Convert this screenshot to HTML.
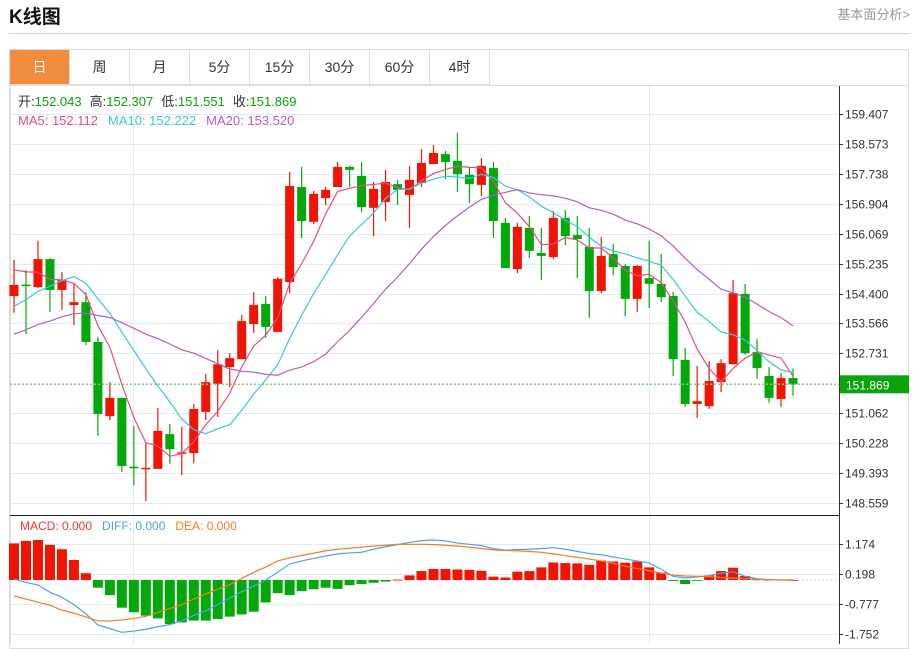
<!DOCTYPE html>
<html><head><meta charset="utf-8">
<style>
body{margin:0;width:918px;height:644px;overflow:hidden;background:#fff;font-family:"Liberation Sans","Noto Sans CJK SC",sans-serif;position:relative}
.title{position:absolute;left:9px;top:2px;font-size:19px;font-weight:bold;color:#111}
.more{position:absolute;right:8px;top:4px;font-size:13px;color:#999}
.hr{position:absolute;left:9px;top:33px;width:901px;height:1px;background:#d5d5d5}
.box{position:absolute;left:9px;top:49px;width:900px;height:600px;border:1px solid #ddd;box-sizing:border-box}
.tabs{position:absolute;left:10px;top:50px;height:35px;display:flex}
.tab{width:60px;height:35px;border-right:1px solid #ddd;border-bottom:1px solid #ddd;font-size:14px;color:#333;display:flex;align-items:center;justify-content:center;box-sizing:border-box}
.tab.on{background:#f28c3f;color:#fff}
svg{position:absolute;left:0;top:0}
</style></head><body>
<div class="title">K线图</div>
<div class="more">基本面分析&gt;</div>
<div class="hr"></div>
<div class="box"></div>
<div class="tabs">
<div class="tab on">日</div>
<div class="tab">周</div>
<div class="tab">月</div>
<div class="tab">5分</div>
<div class="tab">15分</div>
<div class="tab">30分</div>
<div class="tab">60分</div>
<div class="tab">4时</div>
</div>
<svg id="chart" width="918" height="644"></svg>
<script>
const opens=[154.33,154.65,154.58,155.36,154.50,154.08,154.16,153.05,150.98,151.49,149.57,149.52,149.51,150.48,149.94,149.95,151.10,151.88,152.35,152.57,153.55,154.11,153.33,154.72,157.37,156.40,157.06,157.37,157.93,157.68,156.79,156.95,157.45,157.15,157.48,158.01,158.29,158.10,157.71,157.43,157.90,156.37,155.08,156.23,155.53,155.42,156.51,156.03,155.70,154.47,155.50,155.17,154.25,154.83,154.67,154.33,152.55,151.32,151.26,151.93,152.43,154.39,152.77,152.10,151.46,152.043];
const highs=[155.34,155.06,155.87,155.39,155.00,154.69,154.44,153.19,151.93,151.49,150.71,150.23,151.21,150.76,150.68,151.32,152.16,152.82,152.74,153.80,154.44,154.33,154.86,157.79,157.93,157.26,157.37,158.07,157.96,158.07,157.51,157.85,157.57,157.96,158.43,158.54,158.38,158.88,157.93,158.18,158.07,156.51,156.37,156.56,156.23,156.70,156.73,156.56,156.23,155.98,155.78,155.22,155.20,155.87,155.50,154.44,152.88,152.38,152.52,152.57,154.78,154.67,153.13,152.35,152.18,152.307];
const lows=[153.86,153.27,154.55,153.89,153.94,153.52,152.96,150.43,150.87,149.42,149.06,148.61,149.51,149.65,149.34,149.67,150.87,150.96,151.79,152.57,153.30,153.16,153.33,154.41,155.95,156.34,156.87,157.37,157.37,156.67,156.00,156.42,156.87,156.23,157.37,158.01,157.59,157.23,156.93,157.12,155.95,155.11,154.97,155.39,154.78,155.36,155.75,154.83,153.72,154.41,154.92,153.77,153.89,154.00,154.16,152.10,151.24,150.93,151.18,151.65,152.43,152.69,152.02,151.35,151.24,151.551];
const closes=[154.64,154.63,155.36,154.50,154.78,154.16,153.05,151.04,151.49,149.59,149.55,149.54,150.57,150.06,149.97,151.18,151.93,152.43,152.60,153.63,154.08,153.47,154.81,157.40,156.42,157.18,157.29,157.93,157.85,156.81,157.32,157.51,157.29,157.57,158.04,158.32,158.07,157.73,157.45,157.96,156.42,155.11,156.26,155.59,155.45,156.51,156.00,155.92,154.47,155.45,155.14,154.25,155.17,154.67,154.30,152.57,151.32,151.40,151.96,152.46,154.41,152.74,152.32,151.49,152.04,151.869];
const priorCloses=[152.2,152.4,152.6,152.3,152.5,152.7,152.4,152.6,152.5,152.7,152.8,153.0,153.1,153.2,153.05,154.9,155.4,155.5,154.85];
const priceTicks=["159.407","158.573","157.738","156.904","156.069","155.235","154.400","153.566","152.731","151.062","150.228","149.393","148.559"];
const macdHist=[1.19,1.27,1.30,1.14,1.00,0.65,0.22,-0.25,-0.49,-0.90,-1.05,-1.16,-1.25,-1.43,-1.38,-1.32,-1.32,-1.27,-1.19,-1.12,-1.03,-0.73,-0.43,-0.49,-0.36,-0.30,-0.25,-0.29,-0.17,-0.13,-0.09,-0.05,0.01,0.15,0.29,0.36,0.36,0.34,0.33,0.30,0.11,0.08,0.27,0.29,0.41,0.57,0.55,0.54,0.49,0.63,0.60,0.56,0.60,0.41,0.24,-0.03,-0.13,-0.02,0.15,0.29,0.40,0.13,0.02,0.01,0.01,0.00];
const diffVals=[0.03,-0.08,-0.16,-0.40,-0.56,-0.80,-1.10,-1.46,-1.58,-1.70,-1.66,-1.60,-1.52,-1.45,-1.32,-1.15,-1.00,-0.80,-0.58,-0.38,-0.20,0.00,0.25,0.52,0.62,0.70,0.78,0.85,0.88,0.90,1.00,1.08,1.15,1.22,1.28,1.30,1.27,1.20,1.16,1.12,1.02,0.97,0.99,1.00,1.02,1.05,1.00,0.93,0.86,0.82,0.75,0.68,0.62,0.55,0.35,0.12,0.07,0.10,0.14,0.22,0.27,0.12,0.04,0.01,0.00,0.00];
const deaVals=[-0.52,-0.62,-0.72,-0.82,-0.98,-1.08,-1.20,-1.33,-1.33,-1.30,-1.25,-1.18,-1.05,-0.93,-0.80,-0.62,-0.45,-0.30,-0.15,0.05,0.25,0.42,0.62,0.72,0.80,0.87,0.95,1.00,1.03,1.07,1.10,1.13,1.16,1.16,1.16,1.15,1.13,1.10,1.07,1.02,0.98,0.96,0.95,0.93,0.90,0.85,0.79,0.74,0.68,0.62,0.54,0.45,0.37,0.30,0.22,0.16,0.13,0.12,0.11,0.08,0.06,0.04,0.02,0.01,0.00,0.00];
const macdTicks=["1.174","0.198","-0.777","-1.752"];

const NS="http://www.w3.org/2000/svg";
const svg=document.getElementById('chart');
function mk(tag,attrs,parent){const e=document.createElementNS(NS,tag);for(const k in attrs)e.setAttribute(k,attrs[k]);(parent||svg).appendChild(e);return e;}
const pMax=159.407,pMin=148.559,yTop=114,yBot=503;
function yP(v){return yTop+(pMax-v)*(yBot-yTop)/(pMax-pMin);}
function xI(i){return 14+i*11.985;}
const mZero=580,mScale=30.77;
function yM(v){return mZero-v*mScale;}

// grids
const grid=mk('g',{});


priceTicks.forEach(t=>{const y=Math.round(yP(parseFloat(t)))+0.5;
 mk('line',{x1:10,x2:839,y1:y,y2:y,stroke:'#e3ebf2','stroke-width':1},grid);
 mk('line',{x1:839,x2:843,y1:y,y2:y,stroke:'#333','stroke-width':1},grid);
 const tx=mk('text',{x:845,y:y+4,'font-size':12,fill:'#333'},grid);tx.textContent=t;
 
 });
macdTicks.forEach(t=>{const y=Math.round(yM(parseFloat(t)))+0.5;
 mk('line',{x1:10,x2:839,y1:y,y2:y,stroke:'#e3ebf2','stroke-width':1},grid);
 mk('line',{x1:839,x2:843,y1:y,y2:y,stroke:'#333','stroke-width':1},grid);
 const tx=mk('text',{x:845,y:y+4,'font-size':12,fill:'#333'},grid);tx.textContent=t;
 
 });
[133.5,649.5].forEach(x=>mk('line',{x1:x,x2:x,y1:86,y2:644,stroke:'#e3ebf2'},grid));
mk('line',{x1:10.5,x2:10.5,y1:86,y2:644,stroke:'#ddd'},grid);
mk('line',{x1:10,x2:909,y1:85.5,y2:85.5,stroke:'#ddd'},grid);
mk('line',{x1:839.5,x2:839.5,y1:86,y2:644,stroke:'#333'},grid);
mk('line',{x1:10,x2:839,y1:515.5,y2:515.5,stroke:'#222'},grid);

// candles
const cg=mk('g',{});


for(let i=0;i<closes.length;i++){
 const up=closes[i]>=opens[i];const col=up?'#f01405':'#03a80a';
 const x=xI(i);
 const w=mk('line',{x1:x,x2:x,y1:yP(highs[i]),y2:yP(lows[i]),stroke:col,'stroke-width':1.2},cg);
 
 
 const t=yP(Math.max(opens[i],closes[i])),b=yP(Math.min(opens[i],closes[i]));
 const r=mk('rect',{x:x-4.5,y:t,width:9,height:Math.max(b-t,1.5),fill:col},cg);
 
 
}
// MA lines
const all=priorCloses.concat(closes);
function ma(n){const out=[];for(let i=0;i<closes.length;i++){const j=i+priorCloses.length;let s=0;for(let k=j-n+1;k<=j;k++)s+=all[k];out.push(s/n);}return out;}
[[5,'#ec4b80','ma5-line'],[10,'#36c9dc','ma10-line'],[20,'#b25dc8','ma20-line']].forEach(([n,c,name])=>{
 const v=ma(n);const p=mk('polyline',{points:v.map((y,i)=>xI(i)+','+yP(y)).join(' '),fill:'none',stroke:c,'stroke-width':1.2});
 
 
});
// last price line
const ly=yP(closes[closes.length-1]);
const lp=mk('line',{x1:10,x2:839,y1:ly,y2:ly,stroke:'#7ccf7c','stroke-dasharray':'2,2','stroke-width':1.5});


const lb=mk('rect',{x:840,y:ly-9,width:69,height:18,fill:'#0aa30a'});


const lt=mk('text',{x:846,y:ly+5,'font-size':12,fill:'#fff'});lt.textContent=closes[closes.length-1].toFixed(3);



// MACD
const mz=mk('line',{x1:10,x2:839,y1:mZero,y2:mZero,stroke:'#bfe3f0','stroke-dasharray':'2,2'});


const mg=mk('g',{});


macdHist.forEach((v,i)=>{const x=xI(i);const y0=yM(0),y1=yM(v);
 const r=mk('rect',{x:x-5,y:Math.min(y0,y1),width:10,height:Math.max(Math.abs(y1-y0),0.8),fill:v>=0?'#f01405':'#03a80a'},mg);
 
 });
[[diffVals,'#4aa3ec','diff-line'],[deaVals,'#f57c1f','dea-line']].forEach(([v,c,name])=>{
 const p=mk('polyline',{points:v.map((y,i)=>xI(i)+','+yM(y)).join(' '),fill:'none',stroke:c,'stroke-width':1.2});
 
 
});
// white strip to clip MACD lines at bottom/left
</script>
<svg width="918" height="644" style="pointer-events:none">
<text x="18" y="106" font-size="13"><tspan fill="#333">开:</tspan><tspan fill="#0aa30a">152.043</tspan><tspan fill="#333" dx="8">高:</tspan><tspan fill="#0aa30a">152.307</tspan><tspan fill="#333" dx="8">低:</tspan><tspan fill="#0aa30a">151.551</tspan><tspan fill="#333" dx="8">收:</tspan><tspan fill="#0aa30a">151.869</tspan></text>
<text x="18" y="125" font-size="13"><tspan fill="#ec4b80">MA5: 152.112</tspan><tspan fill="#36c9dc" dx="10">MA10: 152.222</tspan><tspan fill="#b25dc8" dx="10">MA20: 153.520</tspan></text>
<text x="20" y="530" font-size="12"><tspan fill="#f0362a">MACD: 0.000</tspan><tspan fill="#4aa3ec" dx="10">DIFF: 0.000</tspan><tspan fill="#f57c1f" dx="10">DEA: 0.000</tspan></text>
</svg>
</body></html>
